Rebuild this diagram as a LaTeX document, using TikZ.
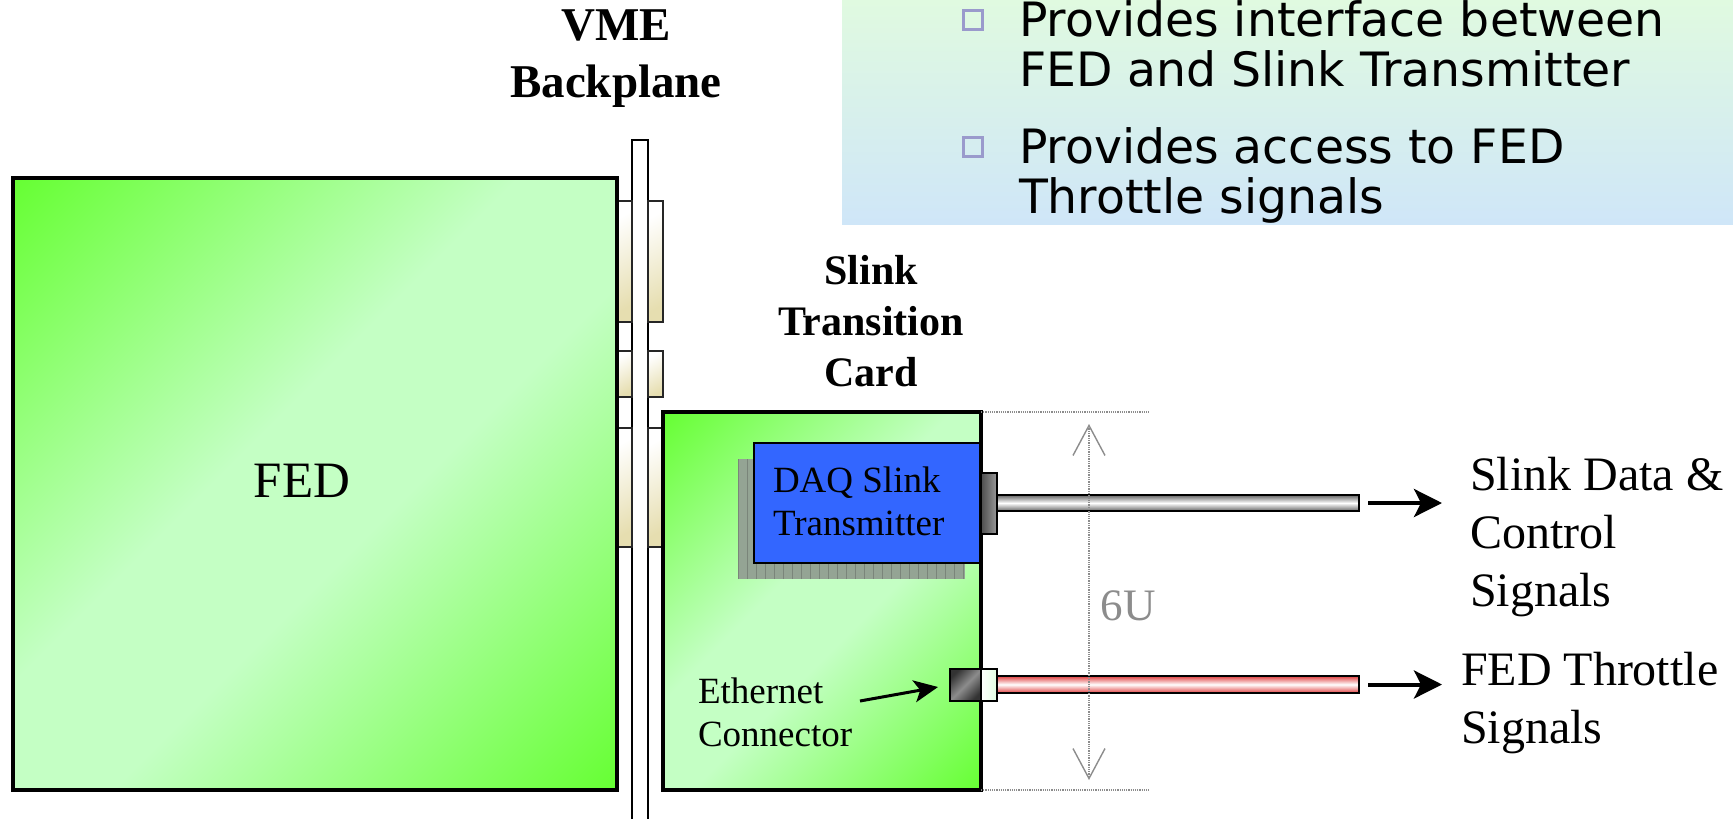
\documentclass[tikz,border=0pt]{standalone}
\usepackage{fontspec}
\setmainfont{Liberation Serif}
\newfontfamily\panelfont{DejaVu Sans}
\usetikzlibrary{arrows.meta}
\definecolor{gdark}{HTML}{66FF33}
\definecolor{glight}{HTML}{C4FFC4}
\definecolor{panelgreen}{HTML}{E0FAE0}
\definecolor{panelblue}{HTML}{CFE6F8}
\definecolor{bulletc}{HTML}{9A9ACC}
\definecolor{cream}{HTML}{E6DEB0}
\definecolor{daqblue}{HTML}{3366FF}
\definecolor{shadowfill}{HTML}{94A494}
\definecolor{shadowgrid}{HTML}{7A857A}
\definecolor{cablered}{HTML}{E04040}
\definecolor{dimgray}{HTML}{8C8C8C}
\pgfdeclareverticalshading{boardshade}{100bp}{color(0bp)=(gdark); color(14.6bp)=(gdark); color(44bp)=(glight); color(56bp)=(glight); color(85.4bp)=(gdark); color(100bp)=(gdark)}
\begin{document}
\begin{tikzpicture}[x=1pt,y=-1pt,
  every node/.style={inner sep=0pt,outer sep=0pt},
  box/.style={anchor=north west,rectangle},
  board/.style={box,draw=black,line width=4pt,shading=boardshade,shading angle=45},
  plug/.style={box,draw=black!85,line width=1.5pt,top color=white,bottom color=cream,shading angle=30},
  rail/.style={box,draw=black,line width=1.5pt,fill=white},
  daq/.style={box,draw=black,line width=2.5pt,fill=daqblue},
  conn/.style={box,draw=black,line width=2pt,left color=black!70,right color=black!40},
  cable/.style={box,draw=black,line width=2pt},
  sigarrow/.style={line width=4pt,-{Stealth[length=28pt,width=28pt,inset=7pt]}},
  ptr/.style={line width=3pt,-{Stealth[length=24pt,width=22pt,inset=6pt]}},
  dimline/.style={dimgray,line width=1.3pt,densely dotted,{Straight Barb[length=30pt,width=32pt,line width=1.4pt]}-{Straight Barb[length=30pt,width=32pt,line width=1.4pt]}},
  guide/.style={dimgray,line width=1.2pt,densely dotted},
  bullet/.style={draw=bulletc,line width=2.5pt,minimum size=19pt,rectangle},
  paneltext/.style={anchor=west,align=left,font=\panelfont\fontsize{47.3}{50}\selectfont},
  serif48/.style={align=left,font=\fontsize{48}{58}\selectfont},
  serif37/.style={align=left,font=\fontsize{37}{43}\selectfont},
  boldlabel/.style={align=center,font=\bfseries\fontsize{47}{57}\selectfont}
]
\useasboundingbox (0,0) rectangle (1733,819);
\clip (0,0) rectangle (1733,819);
% info panel
\node[box,minimum width=891pt,minimum height=224pt,top color=panelgreen,bottom color=panelblue] (panel) at (842,0) {};
\node[bullet] (b1) at (973,20) {};
\node[bullet] (b2) at (973,147) {};
\node[paneltext] (t1) at (1019,44) {Provides interface between\\FED and Slink Transmitter};
\node[paneltext] (t2) at (1019,175) {Provides access to FED\\Throttle signals};
% backplane
\node[rail,minimum width=16pt,minimum height=720pt] (rail) at (632,140) {};
\node[plug,minimum width=15pt,minimum height=121pt] (pl1) at (617,201) {};
\node[plug,minimum width=15pt,minimum height=46pt] (pl2) at (617,351) {};
\node[plug,minimum width=15pt,minimum height=119pt] (pl3) at (617,428) {};
\node[plug,minimum width=15pt,minimum height=121pt] (pr1) at (648,201) {};
\node[plug,minimum width=15pt,minimum height=46pt] (pr2) at (648,351) {};
\node[plug,minimum width=15pt,minimum height=119pt] (pr3) at (648,428) {};
\node[boldlabel] (vme) at (616,59) {VME\\Backplane};
% FED board
\node[board,minimum width=604pt,minimum height=612pt] (fed) at (13,178) {};
\node[font=\fontsize{51}{60}\selectfont] (fedlabel) at (302,481) {FED};
% transition card
\node[board,minimum width=318pt,minimum height=378pt] (stc) at (663,412) {};
\node[boldlabel,font=\bfseries\fontsize{42}{51}\selectfont] (stclabel) at (871,321) {Slink\\Transition\\Card};
% transmitter with shadow
\fill[shadowfill] (738,459) rectangle (965,579);
\draw[shadowgrid,line width=0.8pt,step=9] (738,459) grid (965,579);
\node[daq,minimum width=226pt,minimum height=120pt] (daq) at (754,443) {};
\node[serif37,anchor=west] (daqlabel) at (773,501) {DAQ Slink\\Transmitter};
% slink connector and cable
\node[conn,minimum width=16pt,minimum height=61pt] (sconn) at (981,473) {};
\node[cable,minimum width=362pt,minimum height=16pt,top color=black!60,bottom color=black!60,middle color=white] (scable) at (997,495) {};
% ethernet connector and throttle cable
\node[box,draw=black,line width=2pt,minimum width=31pt,minimum height=32pt,top color=black!80,bottom color=black!80,middle color=black!45,shading angle=45] (edark) at (950,669) {};
\node[box,draw=black,line width=2pt,minimum width=16pt,minimum height=32pt,left color=white,right color=green!12] (ewhite) at (981,669) {};
\node[cable,minimum width=362pt,minimum height=17pt,top color=cablered,bottom color=cablered,middle color=white] (tcable) at (997,676) {};
% labels
\node[serif48,anchor=west] (slinklabel) at (1470,537) {Slink Data \&\\Control\\Signals};
\node[serif48,anchor=west] (thrlabel) at (1461,703) {FED Throttle\\Signals};
\node[serif37,anchor=west] (ethlabel) at (698,712) {Ethernet\\Connector};
% arrows
\draw[sigarrow] ([xshift=9pt]scable.east) -- ([xshift=-28pt]scable.east -| slinklabel.west);
\draw[sigarrow] ([xshift=9pt]tcable.east) -- ([xshift=-19pt]tcable.east -| thrlabel.west);
\coordinate (ethfrom) at (860,701);
\draw[ptr] (ethfrom) -- ([xshift=-12pt,yshift=-2pt]edark.west);
% 6U dimension
\coordinate (gtop) at (1149,412);
\coordinate (gbot) at (1149,790);
\draw[guide] (stc.north east) -- (gtop);
\draw[guide] (stc.south east) -- (gbot);
\coordinate (dtop) at (1089,424);
\coordinate (dbot) at (1089,780);
\draw[dimline] (dtop) -- (dbot);
\node[text=dimgray,font=\fontsize{45}{54}\selectfont] (six) at (1128,606) {6U};
\end{tikzpicture}
\end{document}
